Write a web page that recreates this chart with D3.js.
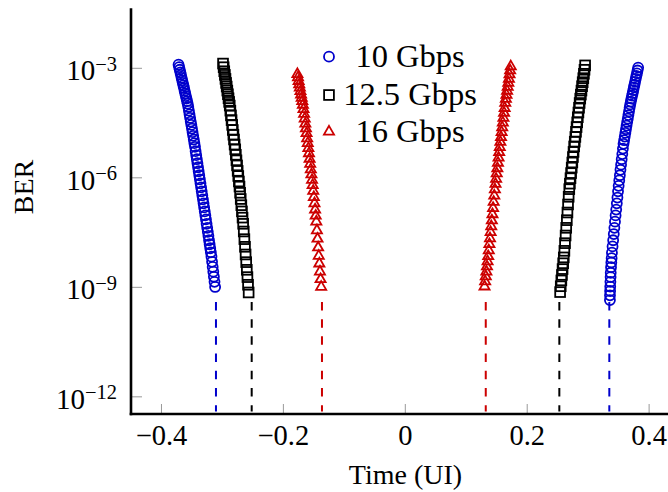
<!DOCTYPE html>
<html><head><meta charset="utf-8">
<script src="https://cdn.jsdelivr.net/npm/d3@7"></script>
<style>
body{margin:0;background:#fff}
svg{display:block}
text{font-family:"Liberation Serif","Times New Roman",serif;fill:#000}
</style>
</head><body>
<svg id="chart" width="668" height="492"></svg>
<script>
// ---------------- data ----------------
const seriesNames = ["10 Gbps", "12.5 Gbps", "16 Gbps"];
const seriesColors = ["#0000cc", "#000000", "#cc0000"];
const xTicks = [-0.4, -0.2, 0, 0.2, 0.4];
const xTickLabels = ["\u22120.4", "\u22120.2", "0", "0.2", "0.4"];
const yTickExps = [-3, -6, -9, -12];
const yTickLabels = ["\u22123", "\u22126", "\u22129", "\u221212"];

// 10 Gbps – time (UI) and log10(BER)
const t10Left = [-0.372,-0.371,-0.370,-0.369,-0.368,-0.367,-0.366,-0.365,-0.364,-0.363,-0.362,-0.361,-0.360,-0.359,-0.358,-0.357,-0.356,-0.355,-0.354,-0.353,-0.352,-0.351,-0.350,-0.349,-0.348,-0.347,-0.346,-0.345,-0.344,-0.343,-0.342,-0.341,-0.340,-0.339,-0.338,-0.337,-0.336,-0.335,-0.334,-0.333,-0.332,-0.331,-0.330,-0.329,-0.328,-0.327,-0.326,-0.325,-0.324,-0.323,-0.322,-0.321,-0.320,-0.319,-0.318,-0.317,-0.316,-0.315,-0.314,-0.313,-0.312];
const e10Left = [-2.90,-2.97,-3.04,-3.11,-3.18,-3.26,-3.33,-3.40,-3.47,-3.54,-3.62,-3.69,-3.76,-3.83,-3.90,-3.97,-4.06,-4.16,-4.26,-4.36,-4.46,-4.55,-4.65,-4.75,-4.85,-4.95,-5.05,-5.15,-5.27,-5.38,-5.49,-5.60,-5.71,-5.82,-5.93,-6.04,-6.15,-6.26,-6.37,-6.48,-6.59,-6.70,-6.81,-6.92,-7.03,-7.14,-7.26,-7.37,-7.48,-7.59,-7.71,-7.82,-7.93,-8.04,-8.16,-8.30,-8.44,-8.57,-8.71,-8.85,-8.99];
const t10Right = [0.382,0.381,0.380,0.379,0.378,0.377,0.376,0.375,0.374,0.373,0.372,0.371,0.370,0.369,0.368,0.367,0.366,0.365,0.364,0.363,0.362,0.361,0.360,0.359,0.358,0.357,0.356,0.355,0.354,0.353,0.352,0.351,0.350,0.349,0.348,0.347,0.346,0.345,0.344,0.343,0.342,0.341,0.340,0.339,0.3385,0.338,0.3375,0.337,0.3368,0.3365,0.3362,0.336,0.3358,0.3357];
const e10Right = [-2.98,-3.06,-3.14,-3.21,-3.29,-3.37,-3.45,-3.52,-3.60,-3.68,-3.75,-3.83,-3.91,-3.99,-4.08,-4.18,-4.28,-4.38,-4.47,-4.57,-4.67,-4.77,-4.87,-4.97,-5.07,-5.20,-5.35,-5.49,-5.64,-5.78,-5.93,-6.07,-6.22,-6.37,-6.54,-6.70,-6.87,-7.03,-7.20,-7.37,-7.54,-7.71,-7.88,-8.05,-8.20,-8.32,-8.45,-8.60,-8.72,-8.85,-8.98,-9.10,-9.22,-9.35];

// 12.5 Gbps
const t12Left = [-0.299,-0.298,-0.297,-0.296,-0.295,-0.294,-0.293,-0.292,-0.291,-0.290,-0.289,-0.288,-0.287,-0.286,-0.285,-0.284,-0.283,-0.282,-0.281,-0.280,-0.279,-0.278,-0.277,-0.276,-0.275,-0.274,-0.273,-0.272,-0.271,-0.270,-0.269,-0.268,-0.267,-0.266,-0.265,-0.264,-0.263,-0.262,-0.261,-0.260,-0.259,-0.258,-0.257];
const e12Left = [-2.87,-2.97,-3.08,-3.18,-3.29,-3.40,-3.50,-3.61,-3.71,-3.82,-3.92,-4.02,-4.16,-4.29,-4.42,-4.55,-4.69,-4.82,-4.95,-5.09,-5.22,-5.37,-5.52,-5.66,-5.81,-5.95,-6.10,-6.24,-6.41,-6.58,-6.75,-6.92,-7.09,-7.26,-7.47,-7.68,-7.89,-8.10,-8.31,-8.52,-8.72,-8.93,-9.14];
const t12Right = [0.295,0.294,0.293,0.292,0.291,0.290,0.289,0.288,0.287,0.286,0.285,0.284,0.283,0.282,0.281,0.280,0.279,0.278,0.277,0.276,0.275,0.274,0.273,0.272,0.271,0.270,0.269,0.268,0.267,0.266,0.265,0.264,0.263,0.262,0.261,0.260,0.259,0.258,0.257,0.256,0.255,0.254];
const e12Right = [-2.92,-3.04,-3.15,-3.27,-3.38,-3.49,-3.61,-3.72,-3.83,-3.95,-4.08,-4.21,-4.34,-4.48,-4.61,-4.74,-4.88,-5.01,-5.14,-5.29,-5.43,-5.58,-5.72,-5.87,-6.01,-6.16,-6.31,-6.52,-6.73,-6.95,-7.16,-7.37,-7.58,-7.79,-8.00,-8.18,-8.34,-8.50,-8.66,-8.81,-8.97,-9.13];

// 16 Gbps
const t16Left = [-0.177,-0.176,-0.175,-0.174,-0.173,-0.172,-0.171,-0.170,-0.169,-0.168,-0.167,-0.166,-0.165,-0.164,-0.163,-0.162,-0.161,-0.160,-0.159,-0.158,-0.157,-0.156,-0.155,-0.154,-0.153,-0.152,-0.151,-0.150,-0.149,-0.148,-0.147,-0.146,-0.145,-0.144,-0.143,-0.142,-0.141,-0.140,-0.139,-0.138];
const e16Left = [-3.16,-3.25,-3.35,-3.44,-3.53,-3.63,-3.72,-3.81,-3.90,-4.00,-4.12,-4.25,-4.38,-4.52,-4.65,-4.78,-4.92,-5.05,-5.19,-5.33,-5.48,-5.62,-5.77,-5.91,-6.06,-6.20,-6.36,-6.53,-6.70,-6.87,-7.04,-7.20,-7.44,-7.67,-7.91,-8.14,-8.35,-8.57,-8.78,-8.99];
const t16Right = [0.173,0.172,0.171,0.170,0.169,0.168,0.167,0.166,0.165,0.164,0.163,0.162,0.161,0.160,0.159,0.158,0.157,0.156,0.155,0.154,0.153,0.152,0.151,0.150,0.149,0.148,0.147,0.146,0.145,0.144,0.143,0.142,0.141,0.140,0.139,0.138,0.137,0.136,0.135,0.134,0.133,0.132,0.131,0.130];
const e16Right = [-2.95,-3.06,-3.17,-3.29,-3.40,-3.51,-3.62,-3.73,-3.84,-3.95,-4.09,-4.22,-4.36,-4.49,-4.62,-4.75,-4.89,-5.02,-5.16,-5.30,-5.45,-5.59,-5.74,-5.88,-6.03,-6.17,-6.32,-6.49,-6.66,-6.83,-7.00,-7.17,-7.33,-7.49,-7.66,-7.82,-7.99,-8.15,-8.29,-8.43,-8.57,-8.70,-8.84,-8.98];

// extrapolated eye edges (dashed lines)
const eyeEdges = [[-0.3106, 0.3347], [-0.252, 0.2527], [-0.1367, 0.132]];
const dashTopExp = -9.4, dashBottomExp = -12.4;

// ---------------- chart ----------------
const svg = d3.select("#chart");
const x = d3.scaleLinear().domain([-0.45, 0.45]).range([131, 679.6]);
const y = d3.scaleLog().domain([Math.pow(10, -12.47), Math.pow(10, -1.356)]).range([414, 8.3]);

const series = [
  {left: [t10Left, e10Left], right: [t10Right, e10Right], mark: "circle"},
  {left: [t12Left, e12Left], right: [t12Right, e12Right], mark: "square"},
  {left: [t16Left, e16Left], right: [t16Right, e16Right], mark: "triangle"}
];
const toPts = ([ts, es]) => ts.map((t, i) => ({t, ber: Math.pow(10, es[i])}));

// ticks (inside, grey)
const gTicks = svg.append("g");
gTicks.selectAll("line.xt").data(xTicks).join("line")
  .attr("x1", d => x(d)).attr("x2", d => x(d))
  .attr("y1", y.range()[0]).attr("y2", y.range()[0] - 10)
  .attr("stroke", "#999").attr("stroke-width", 1);
gTicks.selectAll("line.yt").data(yTickExps).join("line")
  .attr("x1", x.range()[0]).attr("x2", x.range()[0] + 11)
  .attr("y1", d => y(Math.pow(10, d))).attr("y2", d => y(Math.pow(10, d)))
  .attr("stroke", "#999").attr("stroke-width", 1);

// dashed eye edges
series.forEach((s, i) => {
  svg.append("g").selectAll("line").data(eyeEdges[i]).join("line")
    .attr("x1", d => x(d)).attr("x2", d => x(d))
    .attr("y1", y(Math.pow(10, dashTopExp))).attr("y2", y(Math.pow(10, dashBottomExp)))
    .attr("stroke", seriesColors[i]).attr("stroke-width", 2)
    .attr("stroke-dasharray", "8.5,8.7");
});

function drawMark(g, mark, color) {
  if (mark === "circle") {
    g.append("circle").attr("r", 5).attr("fill", "none").attr("stroke", color).attr("stroke-width", 1.8);
  } else if (mark === "square") {
    g.append("rect").attr("x", -4.9).attr("y", -4.9).attr("width", 9.8).attr("height", 9.8)
      .attr("fill", "none").attr("stroke", color).attr("stroke-width", 1.8);
  } else {
    g.append("path").attr("d", d3.symbol().type(d3.symbolTriangle).size(44)())
      .attr("fill", "none").attr("stroke", color).attr("stroke-width", 1.8);
  }
}

series.forEach((s, i) => {
  const pts = toPts(s.left).concat(toPts(s.right));
  svg.append("g").selectAll("g").data(pts).join("g")
    .attr("transform", d => `translate(${x(d.t)},${y(d.ber)})`)
    .each(function () { drawMark(d3.select(this), s.mark, seriesColors[i]); });
});

// axis lines
svg.append("line").attr("x1", 131).attr("x2", 131).attr("y1", y.range()[1]).attr("y2", 415.2)
  .attr("stroke", "#000").attr("stroke-width", 2.6);
svg.append("line").attr("x1", 129.7).attr("x2", 668).attr("y1", 414).attr("y2", 414)
  .attr("stroke", "#000").attr("stroke-width", 2.6);

// x tick labels
svg.append("g").selectAll("text").data(xTicks).join("text")
  .attr("x", d => x(d)).attr("y", 445).attr("text-anchor", "middle")
  .attr("font-size", 28.5).text((d, i) => xTickLabels[i]);

// y tick labels: 10^exp
const yl = svg.append("g").selectAll("text").data(yTickExps).join("text")
  .attr("x", 117).attr("y", d => y(Math.pow(10, d)) + 11.7).attr("text-anchor", "end")
  .attr("font-size", 29);
yl.append("tspan").text("10");
yl.append("tspan").attr("font-size", 20.5).attr("dy", -9.5).text((d, i) => yTickLabels[i]);

// axis titles
svg.append("text").attr("x", 405.5).attr("y", 484).attr("text-anchor", "middle")
  .attr("font-size", 28).text("Time (UI)");
svg.append("text").attr("transform", "translate(33,187) rotate(-90)")
  .attr("text-anchor", "middle").attr("font-size", 28).text("BER");

// legend
const legendY = [56.7, 95, 131.7];
const lg = svg.append("g").selectAll("g").data(seriesNames).join("g");
lg.each(function (name, i) {
  const g = d3.select(this);
  const m = g.append("g").attr("transform", `translate(329,${legendY[i]})`);
  drawMark(m, series[i].mark, seriesColors[i]);
  g.append("text").attr("x", 410).attr("y", legendY[i] + 10).attr("text-anchor", "middle")
    .attr("font-size", 32.5).text(name);
});
</script>
</body></html>
